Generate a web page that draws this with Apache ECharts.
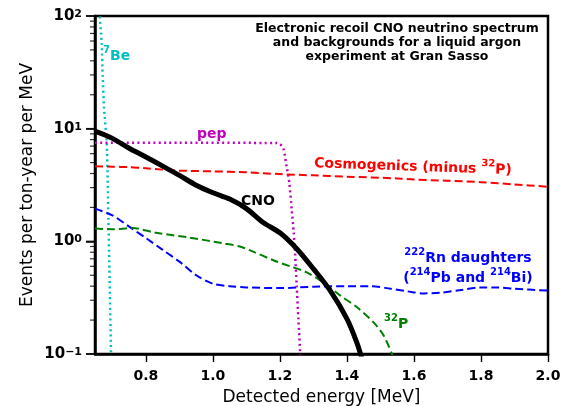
<!DOCTYPE html>
<html><head><meta charset="utf-8">
<script src="https://cdn.jsdelivr.net/npm/echarts@6/dist/echarts.min.js"></script>
<style>html,body{margin:0;padding:0;background:#fff}#c{width:563px;height:406px}</style>
</head><body><div id="c"></div>
<script>
// ---- data ----
const xMin = 0.648, xMax = 2.0;
const xTicks = [0.8, 1.0, 1.2, 1.4, 1.6, 1.8, 2.0];
const yMajor = [0.1, 1, 10, 100];
const yMajorExp = ['−1', '0', '1', '2'];
const yMinor = [0.2,0.3,0.4,0.5,0.6,0.7,0.8,0.9,2,3,4,5,6,7,8,9,20,30,40,50,60,70,80,90];

const cnoX = [0.648, 0.70, 0.75, 0.80, 0.85, 0.90, 0.95, 1.00, 1.05, 1.10, 1.15, 1.20, 1.25, 1.30, 1.35, 1.40, 1.43, 1.445];
const cnoY = [9.5, 8.2, 6.7, 5.6, 4.65, 3.85, 3.15, 2.7, 2.37, 1.95, 1.47, 1.19, 0.86, 0.57, 0.365, 0.205, 0.125, 0.09];

const pepX = [0.648, 0.90, 1.19, 1.200, 1.210, 1.220, 1.228, 1.235, 1.241, 1.245, 1.250, 1.255, 1.261];
const pepY = [7.5, 7.5, 7.45, 7.3, 6.7, 4.6, 3.3, 1.92, 1.2, 0.79, 0.40, 0.204, 0.095];

const be7X = [0.661, 0.668, 0.671, 0.675, 0.683, 0.686, 0.688, 0.691, 0.696];
const be7Y = [110, 57, 29, 15.2, 7.5, 3.3, 1.57, 0.565, 0.095];

const cosX = [0.648, 0.70, 0.75, 0.80, 0.85, 0.90, 1.0, 1.1, 1.2, 1.3, 1.4, 1.55, 1.6, 1.7, 1.8, 1.9, 2.0];
const cosY = [4.63, 4.6, 4.55, 4.45, 4.33, 4.24, 4.18, 4.10, 3.95, 3.85, 3.75, 3.62, 3.54, 3.45, 3.35, 3.2, 3.05];

const rnX = [0.648, 0.70, 0.75, 0.80, 0.85, 0.90, 0.95, 1.00, 1.05, 1.10, 1.20, 1.30, 1.40, 1.47, 1.53, 1.58, 1.63, 1.68, 1.74, 1.80, 1.85, 1.90, 2.0];
const rnY = [1.95, 1.7, 1.35, 1.07, 0.84, 0.66, 0.50, 0.42, 0.40, 0.39, 0.385, 0.395, 0.40, 0.40, 0.38, 0.36, 0.345, 0.35, 0.37, 0.39, 0.39, 0.38, 0.365];

const p32X = [0.648, 0.70, 0.76, 0.83, 0.93, 1.03, 1.08, 1.12, 1.18, 1.23, 1.28, 1.33, 1.38, 1.43, 1.48, 1.51, 1.536];
const p32Y = [1.30, 1.28, 1.31, 1.19, 1.08, 0.96, 0.90, 0.81, 0.68, 0.60, 0.53, 0.43, 0.33, 0.26, 0.19, 0.145, 0.097];

// ---- chart ----
const FONT = "DejaVu Sans";
const zip = (xs, ys) => xs.map((x, i) => [x, ys[i]]);
function line(name, xs, ys, color, width, type, smooth, z) {
  return {
    name, type: 'line', data: zip(xs, ys), showSymbol: false, symbol: 'none',
    smooth: smooth, clip: true, z: z || 2,
    lineStyle: { color, width, type, cap: 'butt', join: 'round' }, animation: false
  };
}
function tickSeries(vals, len, w) {
  return {
    type: 'scatter', data: vals.map(v => [xMin, v]), symbol: 'rect',
    symbolSize: [len, w], symbolOffset: [-len / 2, 0], clip: false, silent: true, z: 5,
    itemStyle: { color: '#000' }, animation: false
  };
}
function richLabel(x, y, parts, color, align, rotation) {
  const txt = parts.map(p => '{' + p[0] + '|' + p[1] + '}').join('');
  return {
    type: 'text', x, y, rotation: rotation || 0,
    style: {
      text: txt, textAlign: align, textVerticalAlign: 'middle',
      rich: {
        b: { fontFamily: FONT, fontWeight: 'bold', fontSize: 14, fill: color, lineHeight: 18, verticalAlign: 'bottom' },
        s: { fontFamily: FONT, fontWeight: 'bold', fontSize: 10, fill: color, lineHeight: 18, verticalAlign: 'top' }
      }
    }
  };
}
const chart = echarts.init(document.getElementById('c'), null, { renderer: 'canvas' });
chart.setOption({
  animation: false,
  backgroundColor: '#fff',
  grid: { left: 95, top: 16, right: 15, bottom: 52, show: true, borderColor: '#000', borderWidth: 2.5, containLabel: false, outerBoundsMode: 'none' },
  xAxis: {
    type: 'value', min: xMin, max: xMax,
    name: 'Detected energy [MeV]', nameLocation: 'middle', nameGap: 35, nameMoveOverlap: false,
    nameTextStyle: { fontFamily: FONT, fontSize: 17, color: '#000' },
    axisLine: { show: true, onZero: false, lineStyle: { color: '#000', width: 2.5 } },
    axisTick: { show: true, length: 8, lineStyle: { color: '#000', width: 1.4 }, customValues: xTicks },
    axisLabel: { customValues: xTicks, formatter: v => v.toFixed(1), fontFamily: FONT, fontWeight: 'bold', fontSize: 14, color: '#000', margin: 15 },
    splitLine: { show: false }
  },
  yAxis: {
    type: 'log', logBase: 10, min: 0.1, max: 100,
    name: 'Events per ton-year per MeV', nameLocation: 'middle', nameGap: 59, nameMoveOverlap: false,
    nameTextStyle: { fontFamily: FONT, fontSize: 17, color: '#000' },
    axisLine: { show: true, lineStyle: { color: '#000', width: 2.5 } },
    axisTick: { show: true, length: 9, lineStyle: { color: '#000', width: 1.5 } },
    axisLabel: {
      formatter: v => { const i = yMajor.findIndex(t => Math.abs(t - v) / t < 1e-6); return i >= 0 ? '{b|10}{s|' + yMajorExp[i] + '}' : ''; },
      margin: 13,
      rich: {
        b: { fontFamily: FONT, fontWeight: 'bold', fontSize: 15, color: '#000', lineHeight: 15 },
        s: { fontFamily: FONT, fontWeight: 'bold', fontSize: 11, color: '#000', lineHeight: 11, verticalAlign: 'top' }
      }
    },
    splitLine: { show: false }
  },
  series: [
    line('7Be', be7X, be7Y, '#00BFBF', 2.5, [2, 3.3], 0.2),
    line('pep', pepX, pepY, '#BF00BF', 2.5, [2, 3.3], 0.25),
    line('Cosmogenics', cosX, cosY, '#FF0000', 2, [8, 4], 0.3),
    line('Rn', rnX, rnY, '#0000FF', 2, [8, 4], 0.3),
    line('32P', p32X, p32Y, '#008000', 2, [8, 4], 0.3),
    line('CNO', cnoX, cnoY, '#000000', 5, 'solid', 0.3, 3),
    tickSeries(yMajor, 9, 1.5),
    tickSeries(yMinor, 5, 1.2)
  ],
  graphic: [
    { type: 'text', x: 397, y: 22, style: { text: 'Electronic recoil CNO neutrino spectrum\nand backgrounds for a liquid argon\nexperiment at Gran Sasso', font: "bold 12.5px 'DejaVu Sans'", fill: '#000', textAlign: 'center', textVerticalAlign: 'top', lineHeight: 14 } },
    richLabel(103, 54, [['s', '7'], ['b', 'Be']], '#00BFBF', 'left'),
    { type: 'text', x: 197, y: 134, style: { text: 'pep', font: "bold 14px 'DejaVu Sans'", fill: '#BF00BF', textAlign: 'left', textVerticalAlign: 'middle' } },
    richLabel(413, 165, [['b', 'Cosmogenics (minus '], ['s', '32'], ['b', 'P)']], '#FF0000', 'center', -0.035),
    { type: 'text', x: 241, y: 201, style: { text: 'CNO', font: "bold 14px 'DejaVu Sans'", fill: '#000', textAlign: 'left', textVerticalAlign: 'middle' } },
    richLabel(468, 256, [['s', '222'], ['b', 'Rn daughters']], '#0000FF', 'center'),
    richLabel(468, 276, [['b', '('], ['s', '214'], ['b', 'Pb and '], ['s', '214'], ['b', 'Bi)']], '#0000FF', 'center'),
    richLabel(384, 322, [['s', '32'], ['b', 'P']], '#008000', 'left')
  ]
});
</script>
</body></html>
